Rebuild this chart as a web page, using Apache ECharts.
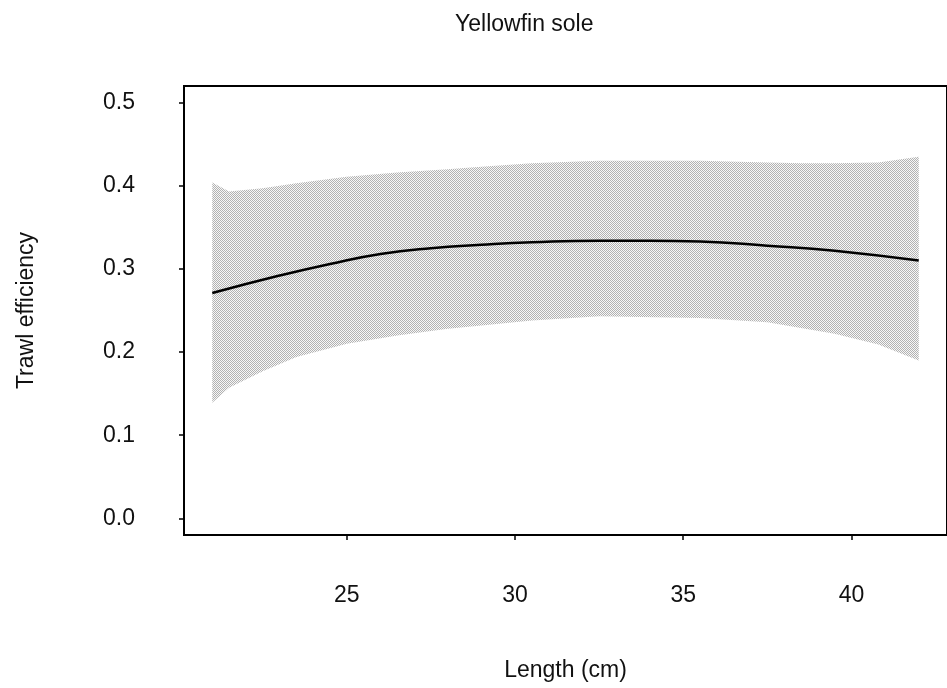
<!DOCTYPE html>
<html><head><meta charset="utf-8">
<script src="https://cdn.jsdelivr.net/npm/echarts@6/dist/echarts.min.js"></script>
<style>html,body{margin:0;padding:0;background:#fff}#c{width:947px;height:688px}</style>
</head><body><div id="c"></div>
<script>
const chartTitle = 'Yellowfin sole';
const xName = 'Length (cm)';
const yName = 'Trawl efficiency';
const lengthBand = [21, 21.5, 22.5, 23.5, 25, 26.5, 28, 29, 30.5, 32.5, 35.5, 37.5, 38.5, 39.5, 40.8, 42];
const upperBand  = [0.404, 0.393, 0.397, 0.403, 0.411, 0.416, 0.420, 0.423, 0.427, 0.430, 0.430, 0.428, 0.427, 0.427, 0.428, 0.435];
const lowerBand  = [0.139, 0.157, 0.177, 0.194, 0.210, 0.220, 0.228, 0.232, 0.238, 0.243, 0.241, 0.236, 0.229, 0.222, 0.209, 0.190];
const lengthFit     = [21, 23, 24.5, 26, 27.5, 29, 30.5, 32.5, 34, 35.5, 37.5, 39.5, 42];
const efficiencyFit = [0.271, 0.292, 0.306, 0.318, 0.325, 0.329, 0.332, 0.334, 0.334, 0.333, 0.328, 0.322, 0.310];
const xTicks = [25, 30, 35, 40];
const yTicks = [0, 0.1, 0.2, 0.3, 0.4, 0.5];

function makeStipple() {
  const c = document.createElement('canvas');
  c.width = 2; c.height = 2;
  const g = c.getContext('2d');
  g.fillStyle = '#f7f7f7'; g.fillRect(0, 0, 2, 2);
  g.fillStyle = '#b2b2b2';
  g.fillRect(0, 0, 1, 1);
  g.fillRect(1, 1, 1, 1);
  return c;
}
const stipple = { image: makeStipple(), repeat: 'repeat' };

const font = 'Liberation Sans, Arial, Helvetica, sans-serif';
const fs = 23;

const chart = echarts.init(document.getElementById('c'), null, { renderer: 'canvas' });
chart.setOption({
  animation: false,
  backgroundColor: '#fff',
  title: {
    text: chartTitle, left: 450, top: 8,
    textStyle: { fontFamily: font, fontSize: fs, fontWeight: 'normal', color: '#111' }
  },
  grid: {
    left: 184, top: 86, width: 769, height: 449,
    show: true, borderColor: '#000', borderWidth: 2, backgroundColor: 'transparent'
  },
  xAxis: {
    type: 'value', min: 20.16, max: 42.84,
    name: xName, nameLocation: 'middle', nameGap: 124,
    nameTextStyle: { fontFamily: font, fontSize: fs, color: '#111' },
    axisLine: { show: false, onZero: false },
    splitLine: { show: false },
    axisTick: { show: true, customValues: xTicks, length: 5, lineStyle: { color: '#000', width: 1.5 } },
    axisLabel: { customValues: xTicks, margin: 49, fontFamily: font, fontSize: fs, color: '#111' }
  },
  yAxis: {
    type: 'value', min: -0.02, max: 0.52,
    name: yName, nameLocation: 'middle', nameGap: 146, nameRotate: 90,
    nameTextStyle: { fontFamily: font, fontSize: fs, color: '#111' },
    axisLine: { show: false, onZero: false },
    splitLine: { show: false },
    axisTick: { show: true, customValues: yTicks, length: 5, lineStyle: { color: '#000', width: 1.5 } },
    axisLabel: { customValues: yTicks, margin: 49, fontFamily: font, fontSize: fs, color: '#111',
      formatter: v => v.toFixed(1) }
  },
  series: [
    {
      type: 'custom',
      coordinateSystem: 'cartesian2d',
      silent: true,
      data: [[lengthBand[0], upperBand[0]]],
      renderItem: function (params, api) {
        const pts = [];
        for (let i = 0; i < lengthBand.length; i++) pts.push(api.coord([lengthBand[i], upperBand[i]]));
        for (let i = lengthBand.length - 1; i >= 0; i--) pts.push(api.coord([lengthBand[i], lowerBand[i]]));
        return { type: 'polygon', shape: { points: pts }, style: { fill: stipple, stroke: null } };
      },
      z: 1
    },
    {
      type: 'line',
      data: lengthFit.map((x, i) => [x, efficiencyFit[i]]),
      smooth: true,
      symbol: 'none',
      lineStyle: { color: '#000', width: 2.5 },
      z: 3
    }
  ]
});
</script>
</body></html>
